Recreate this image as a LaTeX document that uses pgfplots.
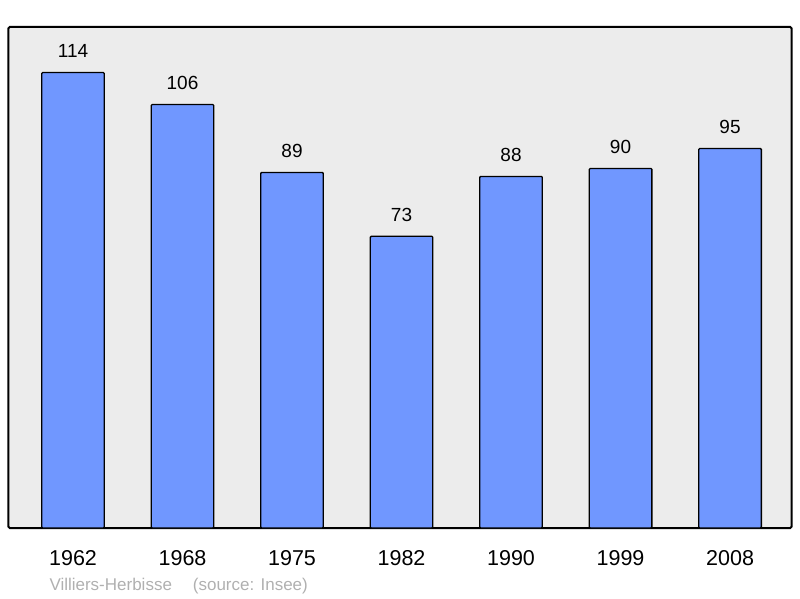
\documentclass[border=0pt]{standalone}
\usepackage{pgfplots}
\pgfplotsset{compat=1.18}
\usepackage{fontspec}
\setmainfont{Liberation Sans}
\definecolor{bgc}{RGB}{236,236,236}
\definecolor{barc}{RGB}{112,151,255}
\definecolor{footc}{RGB}{176,176,176}
\begin{document}
\begin{tikzpicture}[x=1pt,y=1pt]
\useasboundingbox (0,0) rectangle (800,598);
\begin{axis}[
  at={(8.3pt,70pt)}, anchor=south west,
  scale only axis, width=783.4pt, height=501pt,
  xmin=-0.591, xmax=6.563, ymin=0, ymax=125.4,
  axis background/.style={fill=bgc},
  axis line style={line width=2pt, rounded corners=1.5pt},
  ytick=\empty,
  xtick={0,1,2,3,4,5,6},
  xticklabels={1962,1968,1975,1982,1990,1999,2008},
  major tick length=0pt,
  xticklabel style={anchor=base, yshift=-37pt, font=\fontsize{21.5}{24}\selectfont},
  /pgf/number format/assume math mode=true,
  ybar, bar width=62.6pt,
  nodes near coords,
  every node near coord/.append style={anchor=base, yshift=14.7pt, font=\fontsize{19}{22}\selectfont, text=black},
  clip=false,
]
\addplot[fill=barc, draw=black, line width=1.3pt, rounded corners=1pt] coordinates {
(0,114) (1,106) (2,89) (3,73) (4,88) (5,90) (6,95)};
\end{axis}
\node[anchor=base west, inner sep=0, text=footc, font=\fontsize{17}{20}\selectfont] at (49.3,8) {Villiers-Herbisse};
\node[anchor=base west, inner sep=0, text=footc, font=\fontsize{17}{20}\selectfont] at (192.7,8) {(source: Insee)};
\end{tikzpicture}
\end{document}
